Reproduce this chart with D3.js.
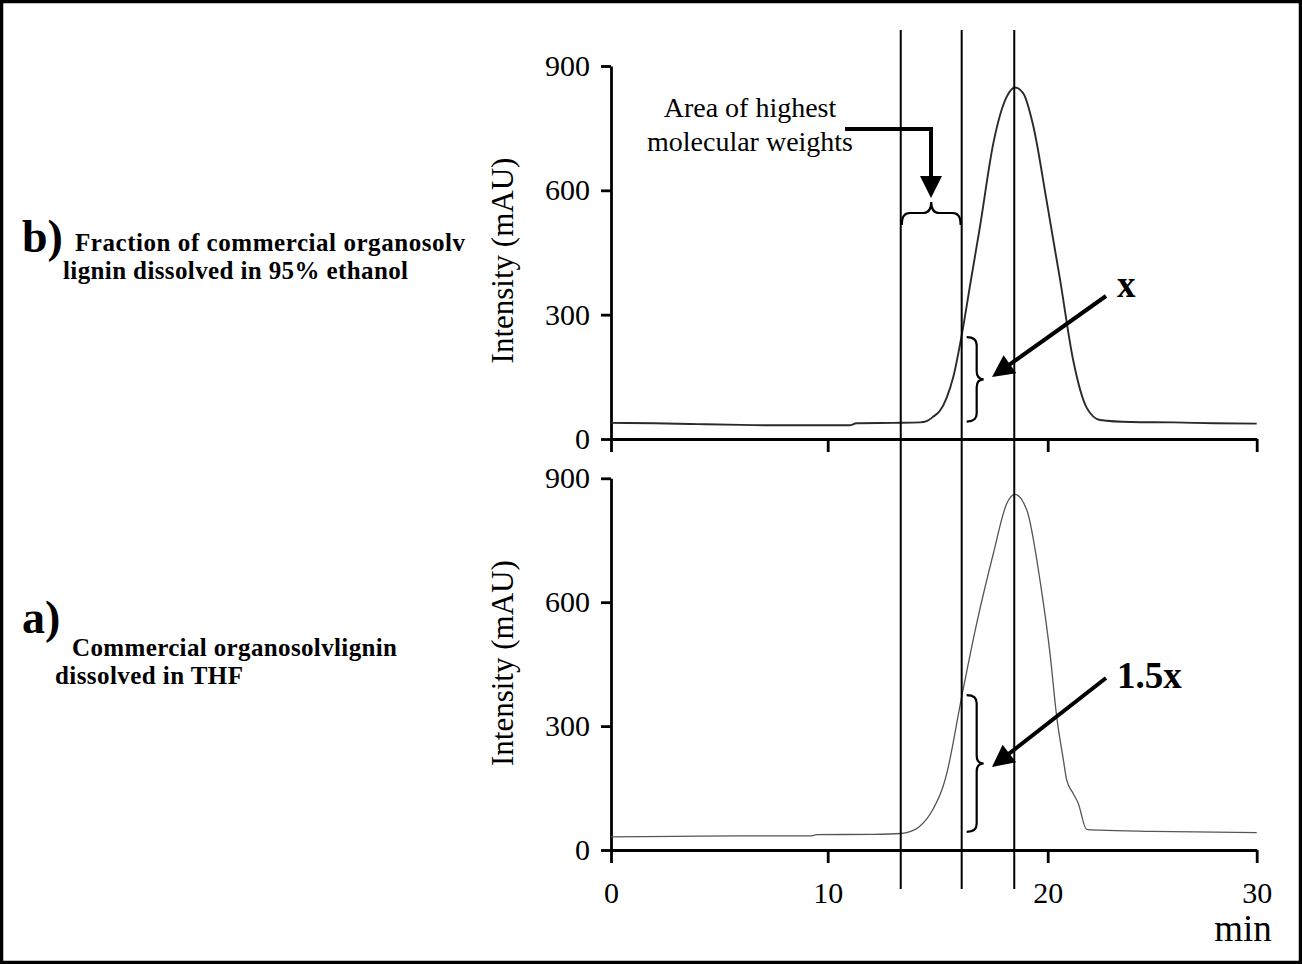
<!DOCTYPE html>
<html>
<head>
<meta charset="utf-8">
<script src="https://cdn.jsdelivr.net/npm/d3@7"></script>
<style>
  body { margin: 0; background: #fff; }
  svg text { font-family: "Liberation Serif", "Times New Roman", serif; fill: #000; }
</style>
</head>
<body>
<svg id="chart" width="1302" height="964"></svg>
<script>
// b) fraction dissolved in 95% ethanol (top trace)
const timeB = [0, 2, 4, 6, 8, 10, 11.0, 11.3, 13, 14.2, 14.5, 14.8, 15.1, 15.41, 15.71, 16.09, 16.5, 16.92,
  17.53, 18.14, 18.51, 18.89, 19.35, 19.95, 20.59, 21.22, 21.87, 22.5, 24, 26, 28, 30];
const intensityB = [39, 38, 36, 34, 33, 33, 33, 38, 39, 40, 43, 54, 68, 100, 150, 250, 380, 512,
  714, 826, 848, 834, 754, 575, 385, 190, 75, 46, 41, 40, 38, 37];

// a) commercial organosolv lignin in THF (bottom trace)
const timeA = [0, 3, 6, 9.2, 9.5, 12, 13.32, 13.59, 14.2, 14.8, 15.25, 15.41, 16.09, 16.77, 17.53, 18.14,
  18.51, 19.05, 19.65, 20.11, 20.43, 20.75, 20.91, 21.22, 21.46, 21.86, 22.5, 25, 30];
const intensityA = [32, 33, 34, 34, 37, 38, 40, 42, 58, 100, 155, 185, 371, 548, 718, 839,
  861, 823, 653, 476, 323, 218, 169, 137, 113, 50, 48, 45, 42];

const markerTimes = [13.32, 16.09, 18.48];
const xTicks = [0, 10, 20, 30];
const yTicks = [0, 300, 600, 900];

const svg = d3.select('#chart');

// the printed time axis is not perfectly even, so map each decade separately
const x = d3.scaleLinear().domain(xTicks).range([611, 827.7, 1047.7, 1256.7]);
const yTop = d3.scaleLinear().domain([0, 900]).range([439, 66]);
const yBot = d3.scaleLinear().domain([0, 900]).range([850, 478.3]);

// frame
svg.append('rect')
  .attr('x', 1.5).attr('y', 1.5).attr('width', 1299).attr('height', 961)
  .attr('fill', 'none').attr('stroke', '#000').attr('stroke-width', 3.5);

function styleAxis(g) {
  g.select('.domain').attr('stroke-width', 2.8);
  g.selectAll('.tick line').attr('stroke-width', 2.8);
  g.selectAll('.tick text').attr('font-size', 30).attr('font-family', '"Liberation Serif", serif');
}

function drawPanel(y, times, values, showLabels, stroke, width, titleShift) {
  svg.append('g')
    .attr('transform', `translate(${x(0)},0)`)
    .call(d3.axisLeft(y).tickValues(yTicks).tickSize(10).tickSizeOuter(0).tickPadding(11))
    .call(styleAxis);

  const xAxis = d3.axisBottom(x).tickValues(xTicks).tickSize(13).tickSizeOuter(0).tickPadding(19);
  if (!showLabels) xAxis.tickFormat('');
  svg.append('g')
    .attr('transform', `translate(0,${y(0)})`)
    .call(xAxis)
    .call(styleAxis);

  const line = d3.line()
    .x((d, i) => x(times[i]))
    .y(d => y(d))
    .curve(d3.curveMonotoneX);

  svg.append('path')
    .datum(values)
    .attr('fill', 'none')
    .attr('stroke', stroke)
    .attr('stroke-width', width)
    .attr('d', line);

  const mid = (y.range()[0] + y.range()[1]) / 2;
  svg.append('text')
    .attr('transform', `translate(513,${mid + titleShift}) rotate(-90)`)
    .attr('text-anchor', 'middle')
    .attr('font-size', 31)
    .text('Intensity (mAU)');
}

drawPanel(yTop, timeB, intensityB, false, '#2a2a2a', 1.9, 8);
drawPanel(yBot, timeA, intensityA, true, '#555', 1.3, -1);

// vertical marker lines across both panels
svg.append('g')
  .selectAll('line')
  .data(markerTimes)
  .join('line')
    .attr('x1', d => x(d)).attr('x2', d => x(d))
    .attr('y1', 30).attr('y2', 889)
    .attr('stroke', '#000')
    .attr('stroke-width', 2);

svg.append('text')
  .attr('x', 1243).attr('y', 941)
  .attr('text-anchor', 'middle')
  .attr('font-size', 37)
  .text('min');

// curly braces
function vBrace(x0, y1, y2) {
  const xb = x0 + 10, xt = x0 + 17, r = 8, ym = (y1 + y2) / 2;
  return `M${x0},${y1} Q${xb},${y1} ${xb},${y1 + r} L${xb},${ym - r} Q${xb},${ym} ${xt},${ym}` +
    ` Q${xb},${ym} ${xb},${ym + r} L${xb},${y2 - r} Q${xb},${y2} ${x0},${y2}`;
}
function hBrace(x1, x2, y0) {
  const yb = y0 - 12, yt = y0 - 23, r = 8, xm = (x1 + x2) / 2;
  return `M${x1},${y0} Q${x1},${yb} ${x1 + r},${yb} L${xm - r},${yb} Q${xm},${yb} ${xm},${yt}` +
    ` Q${xm},${yb} ${xm + r},${yb} L${x2 - r},${yb} Q${x2},${yb} ${x2},${y0}`;
}

const braceStyle = p => p.attr('fill', 'none').attr('stroke', '#000').attr('stroke-width', 2.2);

svg.append('path').attr('d', hBrace(x(markerTimes[0]) + 1, x(markerTimes[1]) - 1, 225)).call(braceStyle);
svg.append('path').attr('d', vBrace(x(markerTimes[1]) + 5, yTop(246), yTop(42))).call(braceStyle);
svg.append('path').attr('d', vBrace(x(markerTimes[1]) + 5, yBot(375), yBot(44))).call(braceStyle);

// arrows
function arrowHead(tx, ty, fx, fy, len, half) {
  const a = Math.atan2(ty - fy, tx - fx);
  const bx = tx - len * Math.cos(a), by = ty - len * Math.sin(a);
  const px = -Math.sin(a) * half, py = Math.cos(a) * half;
  return `M${tx},${ty} L${bx + px},${by + py} L${bx - px},${by - py} Z`;
}

function arrow(points) {
  const n = points.length;
  const [tx, ty] = points[n - 1], [fx, fy] = points[n - 2];
  const a = Math.atan2(ty - fy, tx - fx);
  const stop = [tx - 18 * Math.cos(a), ty - 18 * Math.sin(a)];
  svg.append('path')
    .attr('d', d3.line()(points.slice(0, n - 1).concat([stop])))
    .attr('fill', 'none').attr('stroke', '#000').attr('stroke-width', 4)
    .attr('stroke-linejoin', 'miter');
  svg.append('path')
    .attr('d', arrowHead(tx, ty, fx, fy, 22, 11))
    .attr('fill', '#000');
}

arrow([[845, 129], [931, 129], [931, 198]]);
arrow([[1106, 296], [992, 377]]);
arrow([[1106, 678], [992, 767]]);

// annotation text
svg.append('text').attr('x', 750).attr('y', 117).attr('text-anchor', 'middle')
  .attr('font-size', 28).text('Area of highest');
svg.append('text').attr('x', 750).attr('y', 151).attr('text-anchor', 'middle')
  .attr('font-size', 28).text('molecular weights');

svg.append('text').attr('x', 1117).attr('y', 297)
  .attr('font-size', 37).attr('font-weight', 'bold').text('x');
svg.append('text').attr('x', 1117).attr('y', 688)
  .attr('font-size', 37).attr('font-weight', 'bold').text('1.5x');

// sample descriptions on the left
function label(letter, lx, ly, lines) {
  svg.append('text').attr('x', lx).attr('y', ly)
    .attr('font-size', 46).attr('font-weight', 'bold').text(letter);
  lines.forEach(l => {
    svg.append('text').attr('x', l.x).attr('y', l.y)
      .attr('font-size', 25).attr('font-weight', 'bold')
      .attr('textLength', l.w).attr('lengthAdjust', 'spacing')
      .text(l.t);
  });
}

label('b)', 22, 252, [
  { t: 'Fraction of commercial organosolv', x: 75, y: 251, w: 390 },
  { t: 'lignin dissolved in 95% ethanol', x: 63, y: 279, w: 345 }
]);
label('a)', 22, 633, [
  { t: 'Commercial organosolvlignin', x: 72, y: 656, w: 325 },
  { t: 'dissolved in THF', x: 55, y: 684, w: 188 }
]);
</script>
</body>
</html>
